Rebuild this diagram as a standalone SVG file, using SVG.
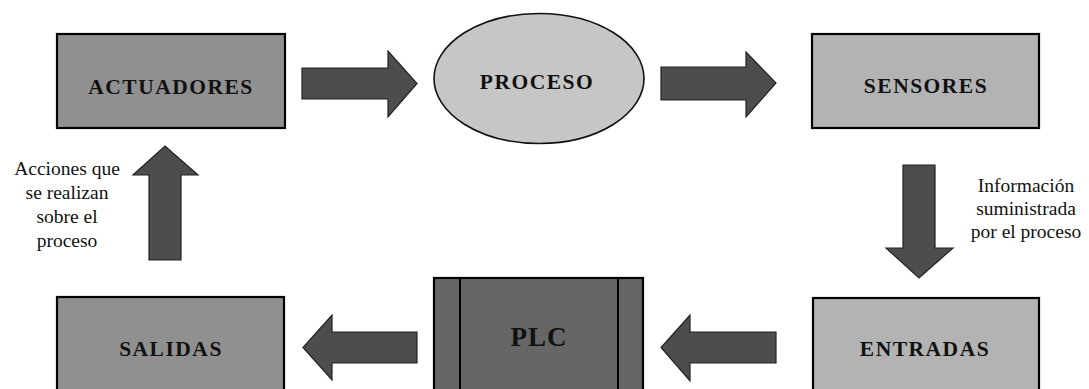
<svg xmlns="http://www.w3.org/2000/svg" width="1089" height="389" viewBox="0 0 1089 389">
<style>
.box{stroke:#000;stroke-width:2.2}
.dark{fill:#909090}
.light{fill:#b3b3b3}
.lbl{font-family:"Liberation Serif","Times New Roman",serif;font-weight:bold;font-size:21.5px;letter-spacing:1.5px;fill:#111;text-anchor:middle}
.note{font-family:"Liberation Serif","Times New Roman",serif;font-size:19.5px;fill:#111;text-anchor:middle}
.arrow{fill:#4d4d4d;stroke:#222;stroke-width:1.2;stroke-linejoin:miter}
</style>
<rect width="1089" height="389" fill="#fff"/>
<g id="actuadores">
<rect class="box dark" x="57" y="34" width="228" height="94"/>
<text class="lbl" x="171" y="94">ACTUADORES</text>
</g>
<g id="proceso">
<ellipse cx="539" cy="78.5" rx="105" ry="65" fill="#c6c6c6" stroke="#111" stroke-width="1.6"/>
<text class="lbl" x="537" y="89">PROCESO</text>
</g>
<g id="sensores">
<rect class="box light" x="812" y="34" width="227" height="94"/>
<text class="lbl" x="926" y="93">SENSORES</text>
</g>
<g id="entradas">
<rect class="box light" x="813" y="298" width="226" height="100"/>
<text class="lbl" x="925" y="356">ENTRADAS</text>
</g>
<g id="plc">
<rect x="434" y="278" width="209" height="120" fill="#666" stroke="#000" stroke-width="2.2"/>
<line x1="460" y1="278" x2="460" y2="398" stroke="#000" stroke-width="2"/>
<line x1="618" y1="278" x2="618" y2="398" stroke="#000" stroke-width="2"/>
<text class="lbl" x="539" y="346" style="font-size:27px;letter-spacing:1px">PLC</text>
</g>
<g id="salidas">
<rect class="box dark" x="57" y="297" width="227" height="100"/>
<text class="lbl" x="171" y="356">SALIDAS</text>
</g>
<g id="connectors">
<polygon class="arrow" points="302,68 388,68 388,51 417,83.5 388,117 388,99 302,99"/>
<polygon class="arrow" points="661,67 746,67 746,52 776,83 746,117 746,100 661,100"/>
<polygon class="arrow" points="903,165 935,165 935,248 953,248 919,278 886,248 903,248"/>
<polygon class="arrow" points="776,332 690,332 690,315 661,347.5 690,381 690,363 776,363"/>
<polygon class="arrow" points="417,332 332,332 332,315 303,347.5 332,380 332,363 417,363"/>
<polygon class="arrow" points="149,260 149,175 133,175 165,146 198,175 181,175 181,260"/>
</g>
<g id="notes">
<text class="note" x="67" y="175">Acciones que</text>
<text class="note" x="67" y="199">se realizan</text>
<text class="note" x="67" y="223">sobre el</text>
<text class="note" x="67" y="247">proceso</text>
<text class="note" x="1026" y="192">Información</text>
<text class="note" x="1026" y="215">suministrada</text>
<text class="note" x="1026" y="238">por el proceso</text>
</g>
</svg>
